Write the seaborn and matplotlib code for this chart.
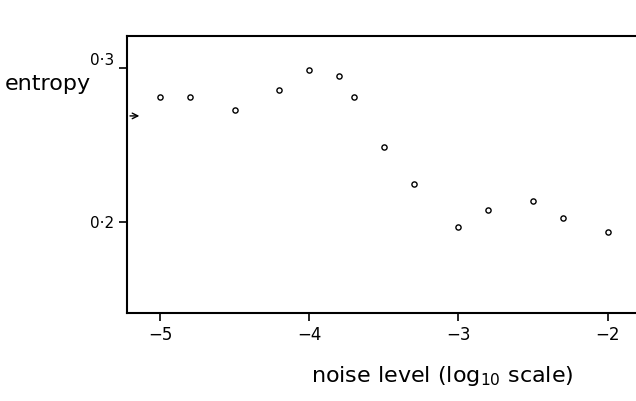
import matplotlib
matplotlib.use("Agg")
import matplotlib.pyplot as plt
import seaborn as sns
import pandas as pd

noise = [-5, -4.8, -4.5, -4.2, -4, -3.8, -3.7, -3.5, -3.3, -3, -2.8, -2.5, -2.3, -2]
entropy = [0.281, 0.281, 0.273, 0.286, 0.299, 0.295, 0.281, 0.249, 0.225, 0.197, 0.208, 0.214, 0.203, 0.194]
arrow_level = 0.269
xticks = [-5, -4, -3, -2]
xticklabels = ["\u22125", "\u22124", "\u22123", "\u22122"]
yticks = [0.2, 0.3]
yticklabels = ["0\u00b72", "0\u00b73"]

sns.set_style("white")
plt.rcParams['font.family'] = ['DejaVu Sans']
plt.rcParams['text.color'] = 'black'
fig = plt.figure(figsize=(6.36, 4.01), dpi=100)
ax = fig.add_axes([0.2, 0.219, 0.8, 0.691])
df = pd.DataFrame({"noise": noise, "entropy": entropy})
sns.scatterplot(data=df, x="noise", y="entropy", ax=ax, marker="o", s=14,
                facecolors="white", edgecolor="black", linewidth=1.0)
ax.set_xlim(-5.22, -1.81)
ax.set_ylim(0.141, 0.3208)
ax.set_xticks(xticks, xticklabels, fontsize=12)
ax.set_yticks(yticks, yticklabels, fontsize=11)
ax.get_yticklabels()[1].set_va("bottom")
ax.tick_params(direction="out", length=6, width=1.2, color="black", labelcolor="black",
               bottom=True, left=True)
for s in ["top", "left", "bottom"]:
    ax.spines[s].set_color("black"); ax.spines[s].set_linewidth(1.5)
ax.spines["right"].set_visible(False)
ax.set_xlabel("noise level (log$_{10}$ scale)", fontsize=16, labelpad=14, x=0.62, color="black")
ax.set_ylabel("")
fig.text(0.008, 0.79, "entropy", fontsize=16, va="center", ha="left", color="black")
ax.annotate("", xy=(-5.12, arrow_level), xytext=(-5.22, arrow_level),
            arrowprops=dict(arrowstyle="->", color="black", lw=1))
fig.savefig("out.png", dpi=100)
